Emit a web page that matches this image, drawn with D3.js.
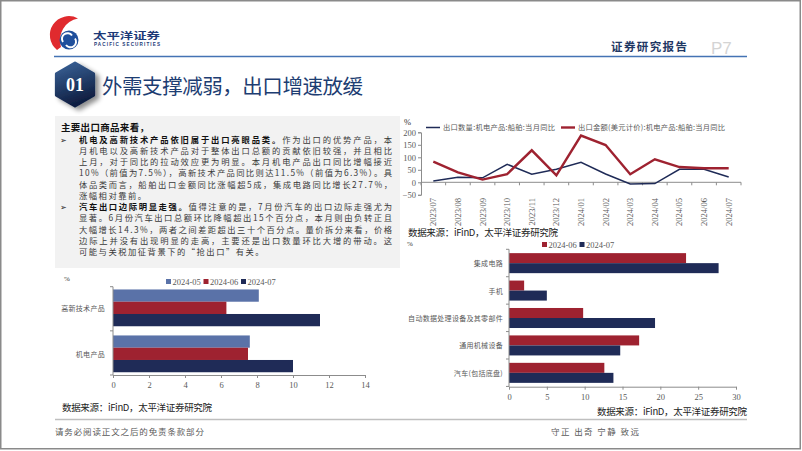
<!DOCTYPE html>
<html><head><meta charset="utf-8">
<script src="https://cdn.jsdelivr.net/npm/d3@7"></script>
<style>
html,body{margin:0;padding:0;background:#fff;}
svg{display:block;font-family:"Noto Sans CJK SC","Noto Sans",sans-serif;}
</style></head>
<body>
<svg id="c" width="802" height="451"></svg>
<script>
// ---------- data ----------
const lineCats = ['2023/07','2023/08','2023/09','2023/10','2023/11','2023/12','2024/01','2024/02','2024/03','2024/04','2024/05','2024/06','2024/07'];
const qtyYoY = [5, 20, 18, 72, 32, 52, 80, 33, -7, -5, 52, 52, 21];
const amtYoY = [83, 40, 11, 33, 128, 28, 187, 149, 32, 92, 61, 56, 56];
const lineYTicks = [-50, 0, 50, 100, 150, 200];
const lineSeriesNames = ['出口数量:机电产品:船舶:当月同比', '出口金额(美元计价):机电产品:船舶:当月同比'];

const leftCats = ['高新技术产品', '机电产品'];
const leftSeries = ['2024-05', '2024-06', '2024-07'];
const left0524 = [8.1, 7.6];
const left0624 = [6.3, 7.5];
const left0724 = [11.5, 10.0];
const leftXTicks = [0, 2, 4, 6, 8, 10, 12, 14];

const rightCats = ['集成电路', '手机', '自动数据处理设备及其零部件', '通用机械设备', '汽车(包括底盘)'];
const rightSeries = ['2024-06', '2024-07'];
const right0624 = [23.4, 2.0, 9.8, 17.2, 12.6];
const right0724 = [27.7, 5.0, 19.3, 14.7, 13.8];
const rightXTicks = [0, 5, 10, 15, 20, 25, 30];

const bodyHeading = '主要出口商品来看，';
const para1 = [
  ['机电及高新技术产品依旧属于出口亮眼品类。', '作为出口的优势产品，本'],
  ['', '月机电以及高新技术产品对于整体出口总额的贡献依旧较强，并且相比'],
  ['', '上月，对于同比的拉动效应更为明显。本月机电产品出口同比增幅接近'],
  ['', '10%（前值为7.5%），高新技术产品同比则达11.5%（前值为6.3%）。具'],
  ['', '体品类而言，船舶出口金额同比涨幅超5成，集成电路同比增长27.7%，'],
  ['', '涨幅相对靠前。']
];
const para2 = [
  ['汽车出口边际明显走强。', '值得注意的是，7月份汽车的出口边际走强尤为'],
  ['', '显著。6月份汽车出口总额环比降幅超出15个百分点，本月则由负转正且'],
  ['', '大幅增长14.3%，两者之间差距超出三十个百分点。量价拆分来看，价格'],
  ['', '边际上并没有出现明显的走高，主要还是出口数量环比大增的带动。这'],
  ['', '可能与关税加征背景下的“抢出口”有关。']
];
const sourceText = '数据来源：iFinD，太平洋证券研究院';

// ---------- styles ----------
const NAVY = '#1f2b57', RED = '#9e2230', BLUE5 = '#5a72a8';
const AX = '#8c8c8c', TXT = '#595959';
const SERIF = '"Liberation Serif","DejaVu Serif",serif';
const SANS = '"Liberation Sans",Arial,sans-serif';

const svg = d3.select('#c');
const defs = svg.append('defs');

// slide border
svg.append('rect').attr('x', 0.75).attr('y', 0.75).attr('width', 799.5).attr('height', 448)
  .attr('fill', '#fff').attr('stroke', '#8a8a8a').attr('stroke-width', 1.5);

// ---------- header ----------
const logo = svg.append('g');
logo.append('path')
  .attr('d', 'M57,50 A19,19 0 0 1 78,18.5 A22,22 0 0 0 61,47 Z')
  .attr('fill', '#e02a2e');
logo.append('circle').attr('cx', 69).attr('cy', 40).attr('r', 9.5).attr('fill', '#1f4f9c');
logo.append('path').attr('d', 'M63,42 A5.5,5.5 0 0 1 72,35.5').attr('fill', 'none').attr('stroke', '#fff').attr('stroke-width', 2);
logo.append('path').attr('d', 'M75,38.5 A5.5,5.5 0 0 1 66,45').attr('fill', 'none').attr('stroke', '#fff').attr('stroke-width', 2);
svg.append('text').attr('x', 93).attr('y', 39.3).attr('font-size', 9.5).attr('font-weight', 700)
  .attr('fill', '#1d3a78').attr('textLength', 67).attr('lengthAdjust', 'spacingAndGlyphs').text('太平洋证券');
svg.append('text').attr('x', 94).attr('y', 45.5).attr('font-size', 4.6).attr('font-weight', 700)
  .attr('fill', '#1d3a78').attr('textLength', 66).attr('font-family', SANS).text('PACIFIC SECURITIES');

svg.append('line').attr('x1', 54).attr('x2', 747).attr('y1', 56.5).attr('y2', 56.5)
  .attr('stroke', '#4473b4').attr('stroke-width', 1.6);

svg.append('text').attr('x', 611).attr('y', 50.5).attr('font-size', 11.5).attr('font-weight', 700)
  .attr('fill', '#1f3864').attr('textLength', 76).text('证券研究报告');
svg.append('text').attr('x', 711).attr('y', 53.5).attr('font-size', 17)
  .attr('fill', '#d4d4d4').attr('font-family', SANS).text('P7');

// hexagon badge
const grad = defs.append('linearGradient').attr('id', 'hexg').attr('x1', '0').attr('y1', '0').attr('x2', '0.3').attr('y2', '1');
grad.append('stop').attr('offset', '0%').attr('stop-color', '#3a6399');
grad.append('stop').attr('offset', '100%').attr('stop-color', '#101f42');
const sh = defs.append('filter').attr('id', 'shd').attr('x', '-30%').attr('y', '-30%').attr('width', '180%').attr('height', '180%');
sh.append('feGaussianBlur').attr('in', 'SourceAlpha').attr('stdDeviation', 2.5);
sh.append('feOffset').attr('dx', 4).attr('dy', 3).attr('result', 'ob');
sh.append('feComponentTransfer').append('feFuncA').attr('type', 'linear').attr('slope', 0.45);
const fm = sh.append('feMerge'); fm.append('feMergeNode'); fm.append('feMergeNode').attr('in', 'SourceGraphic');
const hc = [75, 84.5], hr = 21.5;
const hexPts = d3.range(6).map(i => {
  const a = -Math.PI / 2 + i * Math.PI / 3;
  return [hc[0] + hr * Math.cos(a), hc[1] + hr * Math.sin(a)];
});
svg.append('path').attr('d', d3.line().curve(d3.curveLinearClosed)(hexPts))
  .attr('fill', 'url(#hexg)').attr('stroke', 'url(#hexg)').attr('stroke-width', 3).attr('stroke-linejoin', 'round')
  .attr('filter', 'url(#shd)');
svg.append('text').attr('x', 75).attr('y', 91).attr('text-anchor', 'middle').attr('font-family', SERIF)
  .attr('font-size', 18).attr('font-weight', 700).attr('fill', '#fff').text('01');

svg.append('text').attr('x', 102).attr('y', 93.5).attr('font-size', 20.5).attr('fill', '#1d3d72')
  .attr('textLength', 261).text('外需支撑减弱，出口增速放缓');

// ---------- text block ----------
svg.append('rect').attr('x', 55).attr('y', 116).attr('width', 345).attr('height', 152).attr('fill', '#f2f2f2');
svg.append('text').attr('x', 61).attr('y', 131).attr('font-size', 9.5).attr('font-weight', 700).attr('fill', '#111')
  .attr('textLength', 88).text(bodyHeading);

function para(lines, startIdx) {
  lines.forEach((ln, i) => {
    const y = 139.5 + (startIdx + i) * 11.25 + 3;
    if (i === 0) {
      svg.append('text').attr('x', 60).attr('y', y).attr('font-size', 8).attr('fill', '#222')
        .attr('font-family', '"DejaVu Sans",sans-serif').text('➢');
    }
    const t = svg.append('text').attr('x', 79).attr('y', y).attr('font-size', 8.3).attr('fill', '#3a3a3a');
    if (ln[0]) t.append('tspan').attr('font-weight', 700).attr('fill', '#111').text(ln[0]);
    t.append('tspan').text(ln[1]);
    if (i < lines.length - 1) t.attr('textLength', 313).attr('lengthAdjust', 'spacing');
    else t.attr('letter-spacing', 1.5);
  });
}
para(para1, 0);
para(para2, para1.length);

// ---------- line chart ----------
{
  const x = d3.scaleBand().domain(lineCats).range([421, 741]);
  const y = d3.scaleLinear().domain([-50, 200]).range([194.8, 132.3]);
  const g = svg.append('g');
  g.append('text').attr('x', 404).attr('y', 125).attr('font-size', 8.5).attr('font-family', SERIF).attr('fill', '#333').text('%');
  const ya = g.append('g').attr('transform', 'translate(421,0)')
    .call(d3.axisLeft(y).tickValues(lineYTicks).tickSize(3).tickPadding(2));
  ya.attr('font-family', SERIF).attr('font-size', 8.5);
  ya.select('.domain').attr('stroke', AX);
  ya.selectAll('.tick line').attr('stroke', AX);
  ya.selectAll('.tick text').attr('fill', TXT);
  g.append('line').attr('x1', 421).attr('x2', 741).attr('y1', y(0)).attr('y2', y(0)).attr('stroke', AX);
  d3.range(lineCats.length + 1).forEach(i => {
    const xx = 421 + i * x.step();
    g.append('line').attr('x1', xx).attr('x2', xx).attr('y1', y(0)).attr('y2', y(0) + 3).attr('stroke', AX);
  });
  lineCats.forEach(c => {
    const cx = x(c) + x.bandwidth() / 2;
    g.append('text').attr('font-family', SERIF).attr('font-size', 8.5).attr('fill', TXT)
      .attr('text-anchor', 'end').attr('dominant-baseline', 'central')
      .attr('transform', `translate(${cx},198) rotate(-90)`).text(c);
  });
  const ln = d3.line().x((d, i) => x(lineCats[i]) + x.bandwidth() / 2).y(d => y(d));
  g.append('path').datum(qtyYoY).attr('d', ln).attr('fill', 'none').attr('stroke', NAVY).attr('stroke-width', 1.5);
  g.append('path').datum(amtYoY).attr('d', ln).attr('fill', 'none').attr('stroke', RED).attr('stroke-width', 2.4);
  g.append('line').attr('x1', 426).attr('x2', 440).attr('y1', 127.5).attr('y2', 127.5).attr('stroke', NAVY).attr('stroke-width', 1.5);
  g.append('text').attr('x', 443).attr('y', 130).attr('font-size', 7.3).attr('fill', TXT).attr('textLength', 112).text(lineSeriesNames[0]);
  g.append('line').attr('x1', 561).attr('x2', 575).attr('y1', 127.5).attr('y2', 127.5).attr('stroke', RED).attr('stroke-width', 2.4);
  g.append('text').attr('x', 578).attr('y', 130).attr('font-size', 7.3).attr('fill', TXT).attr('textLength', 147).text(lineSeriesNames[1]);
  g.append('text').attr('x', 408).attr('y', 236).attr('font-size', 9.5).attr('fill', '#222').attr('textLength', 150).text(sourceText);
}

function legend(items, colors, x0, y0, gap) {
  items.forEach((s, i) => {
    const xx = x0 + i * gap;
    svg.append('rect').attr('x', xx).attr('y', y0 - 3).attr('width', 5).attr('height', 5).attr('fill', colors[i]);
    svg.append('text').attr('font-family', SERIF).attr('x', xx + 6.5).attr('y', y0 + 2.8)
      .attr('font-size', 8.5).attr('fill', TXT).text(s);
  });
}
function styleAxis(a) {
  a.attr('font-family', SERIF).attr('font-size', 8.5);
  a.select('.domain').attr('stroke', AX);
  a.selectAll('.tick line').attr('stroke', AX);
  a.selectAll('.tick text').attr('fill', TXT);
}

// ---------- left bar chart ----------
{
  const x = d3.scaleLinear().domain([0, 14]).range([113, 365]);
  const y = d3.scaleBand().domain(leftCats).range([286.7, 375]).paddingInner(0.2).paddingOuter(0.06);
  const ys = d3.scaleBand().domain(leftSeries).range([0, y.bandwidth()]);
  const cols = [BLUE5, RED, NAVY];
  const vals = [left0524, left0624, left0724];
  svg.append('text').attr('x', 64).attr('y', 281).attr('font-size', 7).attr('fill', '#333').attr('font-family', SERIF).text('%');
  legend(leftSeries, cols, 166, 282, 37.5);
  leftSeries.forEach((s, si) => {
    leftCats.forEach((c, ci) => {
      svg.append('rect').attr('x', x(0)).attr('y', y(c) + ys(s)).attr('width', x(vals[si][ci]) - x(0))
        .attr('height', ys.bandwidth()).attr('fill', cols[si]);
    });
  });
  const xa = svg.append('g').attr('transform', 'translate(0,375)')
    .call(d3.axisBottom(x).tickValues(leftXTicks).tickSize(3).tickPadding(4).tickSizeOuter(0));
  styleAxis(xa);
  svg.append('line').attr('x1', 113).attr('x2', 113).attr('y1', 286.7).attr('y2', 375).attr('stroke', AX);
  [0, 1, 2].forEach(i => {
    const yy = 286.7 + i * (375 - 286.7) / 2;
    svg.append('line').attr('x1', 110).attr('x2', 113).attr('y1', yy).attr('y2', yy).attr('stroke', AX);
  });
  leftCats.forEach(c => {
    svg.append('text').attr('x', 105).attr('y', y(c) + y.bandwidth() / 2).attr('dominant-baseline', 'central')
      .attr('text-anchor', 'end').attr('font-size', 7).attr('letter-spacing', 0.3).attr('fill', TXT).text(c);
  });
  svg.append('text').attr('x', 62).attr('y', 410.5).attr('font-size', 9.5).attr('fill', '#222').attr('textLength', 150).text(sourceText);
}

// ---------- right bar chart ----------
{
  const x = d3.scaleLinear().domain([0, 30]).range([509, 736]);
  const y = d3.scaleBand().domain(rightCats).range([249.3, 386.7]).paddingInner(0.27).paddingOuter(0.14);
  const ys = d3.scaleBand().domain(rightSeries).range([0, y.bandwidth()]);
  const cols = [RED, NAVY];
  const vals = [right0624, right0724];
  svg.append('text').attr('x', 407).attr('y', 246).attr('font-size', 7).attr('fill', '#333').attr('font-family', SERIF).text('%');
  legend(rightSeries, cols, 542, 245, 37.5);
  rightSeries.forEach((s, si) => {
    rightCats.forEach((c, ci) => {
      svg.append('rect').attr('x', x(0)).attr('y', y(c) + ys(s)).attr('width', x(vals[si][ci]) - x(0))
        .attr('height', ys.bandwidth()).attr('fill', cols[si]);
    });
  });
  const xa = svg.append('g').attr('transform', 'translate(0,386.7)')
    .call(d3.axisBottom(x).tickValues(rightXTicks).tickSize(3).tickPadding(4).tickSizeOuter(0));
  styleAxis(xa);
  svg.append('line').attr('x1', 509).attr('x2', 509).attr('y1', 249.3).attr('y2', 386.7).attr('stroke', AX);
  d3.range(rightCats.length + 1).forEach(i => {
    const yy = 249.3 + i * y.step();
    svg.append('line').attr('x1', 506).attr('x2', 509).attr('y1', yy).attr('y2', yy).attr('stroke', AX);
  });
  rightCats.forEach(c => {
    svg.append('text').attr('x', 503).attr('y', y(c) + y.bandwidth() / 2).attr('dominant-baseline', 'central')
      .attr('text-anchor', 'end').attr('font-size', 7).attr('letter-spacing', 0.3).attr('fill', TXT).text(c);
  });
  svg.append('text').attr('x', 747).attr('y', 415).attr('text-anchor', 'end').attr('font-size', 9.5).attr('fill', '#222')
    .attr('textLength', 150).text(sourceText);
}

// ---------- footer ----------
svg.append('line').attr('x1', 55).attr('x2', 747).attr('y1', 419.5).attr('y2', 419.5).attr('stroke', '#bfbfbf').attr('stroke-width', 1.5);
svg.append('text').attr('x', 55).attr('y', 435).attr('font-size', 8.5).attr('fill', TXT).attr('textLength', 149).text('请务必阅读正文之后的免责条款部分');
svg.append('text').attr('x', 551).attr('y', 435).attr('font-size', 8.5).attr('fill', TXT).attr('textLength', 88).text('守正 出奇 宁静 致远');
</script>
</body></html>
